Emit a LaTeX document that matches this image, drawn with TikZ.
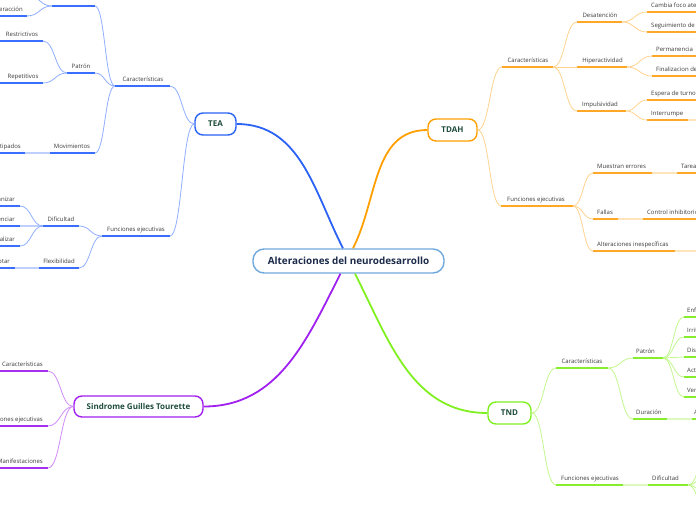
\documentclass[tikz,border=0pt]{standalone}
\usepackage{fontspec}
\setmainfont{Open Sans}
\usetikzlibrary{calc}
\definecolor{blueM}{HTML}{2A62F5}
\definecolor{blueU}{HTML}{3A6EFF}
\definecolor{blueL}{HTML}{90AEFF}
\definecolor{blueP}{HTML}{BFD0FF}
\definecolor{orangeM}{HTML}{FFA000}
\definecolor{orangeU}{HTML}{FFA726}
\definecolor{orangeL}{HTML}{FFD38F}
\definecolor{orangeP}{HTML}{FFE3BA}
\definecolor{greenM}{HTML}{80F020}
\definecolor{greenU}{HTML}{86EE2C}
\definecolor{greenL}{HTML}{C2F78F}
\definecolor{greenP}{HTML}{DCFAC0}
\definecolor{purpleM}{HTML}{A020F0}
\definecolor{purpleU}{HTML}{A530F0}
\definecolor{purpleL}{HTML}{D08CF8}
\definecolor{centerB}{HTML}{6FA8DC}
\definecolor{centerT}{HTML}{1C2B4A}
\definecolor{nodeT}{HTML}{1E4D3B}
\definecolor{txtgray}{HTML}{3A3A3A}
\newcommand\mmtopic[8]{%
  \coordinate (#1-l) at (#2,#4);
  \coordinate (#1-r) at (#3,#4);
  \draw[ul,#5] (#1-l) -- (#1-r);
  \node[lbl,anchor=#6] (#1-t) at (#7,#4-4.5) {#8};}
\begin{document}
\begin{tikzpicture}[x=1pt,y=-1pt,
  lbl/.style={font=\fontsize{6}{7}\selectfont, text=txtgray, inner sep=0pt},
  ul/.style={line width=2pt},
  con/.style={line width=0.8pt},
  mainc/.style={line width=1.8pt},
  topic/.style={draw, line width=1.4pt, rounded corners=8pt, fill=white,
    font=\fontsize{8}{9}\selectfont\bfseries, text=nodeT, inner sep=0pt},
  bez/.style={to path={let \p1=(\tikztostart), \p2=(\tikztotarget) in
    .. controls ({\x1/2+\x2/2},\y1) and ({\x1/2+\x2/2},\y2) .. (\tikztotarget)}}
]
\useasboundingbox (0,0) rectangle (696,520);
\clip (0,0) rectangle (696,520);

% ---------- main nodes ----------
\node[topic, draw=centerB, minimum width=191pt, minimum height=24pt, rounded corners=11pt,
  font=\fontsize{9.9}{11}\selectfont\bfseries, text=centerT] (C) at (348.5,261) {Alteraciones del neurodesarrollo};
\node[topic, draw=blueM, minimum width=41pt, minimum height=22pt] (TEA) at (215.5,124) {TEA};
\node[topic, draw=orangeM, minimum width=49pt, minimum height=22pt] (TDAH) at (452.5,130) {TDAH};
\node[topic, draw=greenM, minimum width=43pt, minimum height=22pt] (TND) at (509.5,413) {TND};
\node[topic, draw=purpleM, minimum width=129pt, minimum height=21pt] (SGT) at (138.5,406.5) {Sindrome Guilles Tourette};

\coordinate (C-tl) at ([xshift=-5.5pt]C.north);
\coordinate (C-tr) at ([xshift=4.5pt]C.north);
\coordinate (C-bl) at ([xshift=-8pt]C.south);
\coordinate (C-br) at ([xshift=6.5pt]C.south);

\draw[mainc, blueM] (TEA.east) to[out=0,in=117] (C-tl);
\draw[mainc, orangeM] (TDAH.west) to[out=180,in=63] (C-tr);
\draw[mainc, purpleM] (C-bl) to[out=-117,in=0] (SGT.east);
\draw[mainc, greenM] (C-br) to[out=-63,in=180] (TND.west);

% ---------- TEA ----------
\mmtopic{bchar}{115}{170}{86}{blueU}{base}{143}{Características}
\mmtopic{bfe}{102}{170}{236}{blueU}{base}{136}{Funciones ejecutivas}
\coordinate (btop-l) at (52,6);
\coordinate (btop-r) at (95,6);
\draw[ul,blueU] (btop-l) -- (btop-r);
\coordinate (bup-r) at (27,-5);
\mmtopic{bint}{-40}{27}{16}{blueU}{base east}{23}{Interacción}
\mmtopic{bpat}{67}{95}{73}{blueU}{base}{81}{Patrón}
\mmtopic{bres}{-5}{43}{41}{blueU}{base}{22}{Restrictivos}
\mmtopic{brep}{-5}{43}{83}{blueU}{base}{23}{Repetitivos}
\mmtopic{bmov}{50}{95}{153}{blueU}{base}{72}{Movimientos}
\mmtopic{best}{-50}{25}{153}{blueU}{base east}{21}{Estereotipados}
\draw[ul,blueP] (best-r) -- (bmov-l);
\mmtopic{bdif}{43}{79}{226}{blueU}{base}{61}{Dificultad}
\mmtopic{borg}{-40}{20}{206}{blueU}{base east}{15}{Organizar}
\mmtopic{bsec}{-40}{20}{226}{blueU}{base east}{15}{Secuenciar}
\mmtopic{bgen}{-40}{20}{246}{blueU}{base east}{15}{Generalizar}
\draw[ul,blueP] (bsec-r) -- (bdif-l);
\mmtopic{bflex}{39}{79}{268}{blueU}{base}{59}{Flexibilidad}
\mmtopic{bada}{-40}{15}{268}{blueU}{base east}{10}{Adaptar}
\draw[ul,blueP] (bada-r) -- (bflex-l);

\begin{scope}[con, blueL]
\draw (TEA.west) to[bez] (bchar-r);
\draw (TEA.west) to[bez] (bfe-r);
\draw (bchar-l) to[bez] (btop-r);
\draw (bchar-l) to[bez] (bpat-r);
\draw (bchar-l) to[bez] (bmov-r);
\draw (btop-l) to[bez] (bup-r);
\draw (btop-l) to[bez] (bint-r);
\draw (bpat-l) to[bez] (bres-r);
\draw (bpat-l) to[bez] (brep-r);
\draw (bfe-l) to[bez] (bdif-r);
\draw (bfe-l) to[bez] (bflex-r);
\draw (bdif-l) to[bez] (borg-r);
\draw (bdif-l) to[bez] (bgen-r);
\end{scope}

% ---------- TDAH ----------
\mmtopic{ochar}{502}{553}{67}{orangeU}{base}{528}{Características}
\mmtopic{ofe}{501}{573}{206}{orangeU}{base}{536}{Funciones ejecutivas}
\mmtopic{odes}{577}{622}{22}{orangeU}{base}{600}{Desatención}
\mmtopic{ohip}{577}{627}{67}{orangeU}{base}{602.5}{Hiperactividad}
\mmtopic{oimp}{577}{626}{111}{orangeU}{base}{600}{Impulsividad}
\mmtopic{ocam}{647}{760}{12}{orangeU}{base west}{651}{Cambia foco atención}
\mmtopic{oseg}{647}{760}{32}{orangeU}{base west}{651}{Seguimiento de instrucciones}
\mmtopic{oper}{652}{760}{56}{orangeU}{base west}{656}{Permanencia}
\mmtopic{ofin}{652}{760}{76}{orangeU}{base west}{656}{Finalizacion de tareas}
\mmtopic{oesp}{647}{760}{100}{orangeU}{base west}{651}{Espera de turno}
\mmtopic{oint}{647}{688}{120}{orangeU}{base west}{651}{Interrumpe}
\coordinate (oint-x) at (760,120);
\draw[ul,orangeP] (oint-r) -- (oint-x);
\mmtopic{omue}{593}{652}{173}{orangeU}{base west}{597}{Muestran errores}
\mmtopic{otar}{677}{760}{173}{orangeU}{base west}{681}{Tareas}
\draw[ul,orangeP] (omue-r) -- (otar-l);
\mmtopic{ofal}{593}{618}{219}{orangeU}{base west}{597}{Fallas}
\mmtopic{oci}{643}{760}{219}{orangeU}{base west}{647}{Control inhibitorio}
\draw[ul,orangeP] (ofal-r) -- (oci-l);
\mmtopic{oalt}{593}{675}{251}{orangeU}{base west}{597}{Alteraciones inespecíficas}
\coordinate (oalt-x) at (760,251);
\draw[ul,orangeP] (oalt-r) -- (oalt-x);

\begin{scope}[con, orangeL]
\draw (TDAH.east) to[bez] (ochar-l);
\draw (TDAH.east) to[bez] (ofe-l);
\draw (ochar-r) to[bez] (odes-l);
\draw (ochar-r) to[bez] (ohip-l);
\draw (ochar-r) to[bez] (oimp-l);
\draw (odes-r) to[bez] (ocam-l);
\draw (odes-r) to[bez] (oseg-l);
\draw (ohip-r) to[bez] (oper-l);
\draw (ohip-r) to[bez] (ofin-l);
\draw (oimp-r) to[bez] (oesp-l);
\draw (oimp-r) to[bez] (oint-l);
\draw (ofe-r) to[bez] (omue-l);
\draw (ofe-r) to[bez] (ofal-l);
\draw (ofe-r) to[bez] (oalt-l);
\end{scope}

% ---------- TND ----------
\mmtopic{gchar}{556}{608}{368}{greenU}{base}{582}{Características}
\mmtopic{gfe}{556}{623}{485}{greenU}{base west}{561}{Funciones ejecutivas}
\mmtopic{gdif}{648}{688}{485}{greenU}{base west}{652}{Dificultad}
\draw[ul,greenP] (gfe-r) -- (gdif-l);
\mmtopic{gpat}{633}{663}{358}{greenU}{base west}{636}{Patrón}
\mmtopic{gdur}{633}{667}{419}{greenU}{base west}{636}{Duración}
\mmtopic{gal}{692}{760}{419}{greenU}{base west}{694}{Al menos 6 meses}
\draw[ul,greenP] (gdur-r) -- (gal-l);
\mmtopic{gent}{684}{760}{317}{greenU}{base west}{687}{Enfado}
\mmtopic{girr}{684}{760}{337}{greenU}{base west}{687}{Irritabilidad}
\mmtopic{gdis}{684}{760}{357}{greenU}{base west}{687}{Discusiones}
\mmtopic{gact}{684}{760}{377}{greenU}{base west}{687}{Actitud desafiante}
\mmtopic{gven}{684}{760}{397}{greenU}{base west}{687}{Vengativo}
\coordinate (gx1) at (712,440);
\coordinate (gx2) at (712,468);
\coordinate (gx3) at (712,500);
\coordinate (gx4) at (712,528);

\begin{scope}[con, greenL]
\draw (TND.east) to[bez] (gchar-l);
\draw (TND.east) to[bez] (gfe-l);
\draw (gchar-r) to[bez] (gpat-l);
\draw (gchar-r) to[bez] (gdur-l);
\draw (gpat-r) to[bez] (gent-l);
\draw (gpat-r) to[bez] (girr-l);
\draw (gpat-r) to[bez] (gdis-l);
\draw (gpat-r) to[bez] (gact-l);
\draw (gpat-r) to[bez] (gven-l);
\draw (gdif-r) to[bez] (gx1);
\draw (gdif-r) to[bez] (gx2);
\draw (gdif-r) to[bez] (gx3);
\draw (gdif-r) to[bez] (gx4);
\end{scope}

% ---------- Sindrome Guilles Tourette ----------
\mmtopic{pchar}{-50}{48}{371}{purpleU}{base east}{43}{Características}
\mmtopic{pfe}{-60}{48}{426}{purpleU}{base east}{43}{Funciones ejecutivas}
\mmtopic{pman}{-50}{48}{468}{purpleU}{base east}{43}{Manifestaciones}
\begin{scope}[con, purpleL]
\draw (SGT.west) to[bez] (pchar-r);
\draw (SGT.west) to[bez] (pfe-r);
\draw (SGT.west) to[bez] (pman-r);
\end{scope}
\end{tikzpicture}
\end{document}
